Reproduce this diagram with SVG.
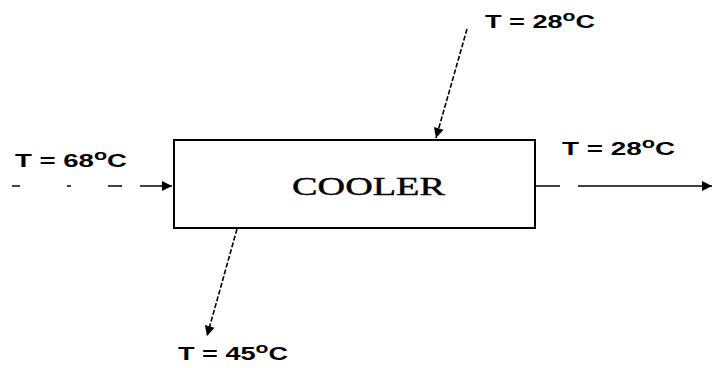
<svg xmlns="http://www.w3.org/2000/svg" width="714" height="368" viewBox="0 0 714 368">
<defs>
<marker id="ah" viewBox="0 0 10 10" refX="10" refY="5" markerWidth="12" markerHeight="10" markerUnits="userSpaceOnUse" orient="auto">
<path d="M0,0 L10,5 L0,10 Z" fill="#000"/>
</marker>
</defs>
<style>
.lbl{font-family:"Liberation Sans",Arial,sans-serif;font-size:18px;font-weight:bold;fill:#000}
.sup{font-size:14px}
.flow{stroke:#000;stroke-width:1.6;fill:none;stroke-dasharray:5 2}
.box{fill:#fff;stroke:#000;stroke-width:2}
.name{font-family:"Liberation Serif","Times New Roman",serif;font-size:26px;fill:#000;stroke:#000;stroke-width:0.4}
</style>
<rect width="714" height="368" fill="#fff"/>
<g id="connectors">
<path class="flow" d="M12,186 H20 M67,186 H71 M108,186 H122 M140,186 H172" marker-end="url(#ah)" style="stroke-dasharray:none"/>
<path class="flow" d="M535,186 H560 M578,186 H712" marker-end="url(#ah)" style="stroke-dasharray:none"/>
<line class="flow" x1="467" y1="29" x2="436" y2="138" marker-end="url(#ah)"/>
<line class="flow" x1="237" y1="229" x2="207" y2="336" marker-end="url(#ah)"/>
</g>
<g id="cooler">
<rect class="box" x="174" y="140" width="361" height="88"/>
<text class="name" x="292" y="195" textLength="153" lengthAdjust="spacingAndGlyphs">COOLER</text>
</g>
<g id="label-in">
<text class="lbl" x="15" y="167" textLength="112" lengthAdjust="spacingAndGlyphs">T = 68<tspan class="sup" dy="-7">o</tspan><tspan dy="7">C</tspan></text>
</g>
<g id="label-top">
<text class="lbl" x="485" y="28" textLength="110" lengthAdjust="spacingAndGlyphs">T = 28<tspan class="sup" dy="-7">o</tspan><tspan dy="7">C</tspan></text>
</g>
<g id="label-out">
<text class="lbl" x="562" y="155" textLength="113" lengthAdjust="spacingAndGlyphs">T = 28<tspan class="sup" dy="-7">o</tspan><tspan dy="7">C</tspan></text>
</g>
<g id="label-bottom">
<text class="lbl" x="178" y="360" textLength="110" lengthAdjust="spacingAndGlyphs">T = 45<tspan class="sup" dy="-7">o</tspan><tspan dy="7">C</tspan></text>
</g>
</svg>
